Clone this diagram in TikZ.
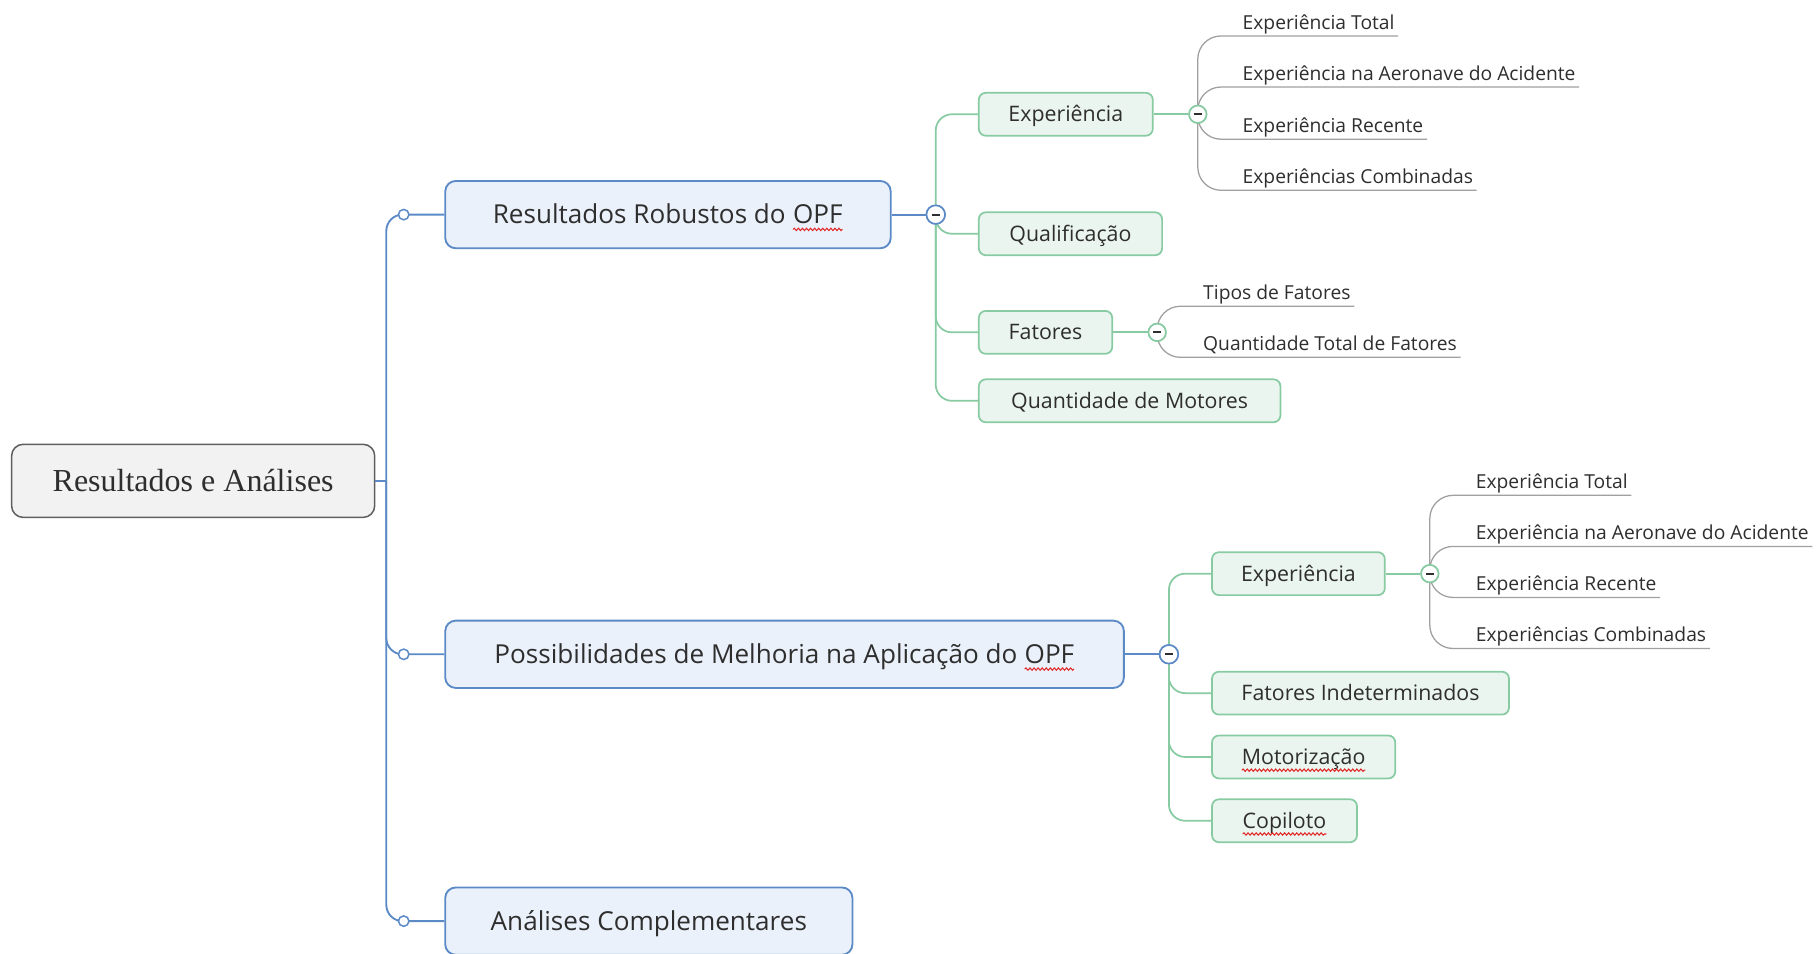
\documentclass[tikz,border=0pt]{standalone}
\usepackage{fontspec}
\setmainfont{Open Sans}
\newfontfamily\rootserif{Liberation Serif}
\usetikzlibrary{decorations.pathmorphing}

\definecolor{cBlueLine}{HTML}{5B8AC6}
\definecolor{cBlueFill}{HTML}{EBF1FA}
\definecolor{cGreenLine}{HTML}{88CBA3}
\definecolor{cGreenFill}{HTML}{EBF5EF}
\definecolor{cLeafLine}{HTML}{A0A0A0}
\definecolor{cRootLine}{HTML}{5F5F5F}
\definecolor{cRootFill}{HTML}{F2F2F2}
\definecolor{cInk}{HTML}{2E2E2E}
\definecolor{cSpell}{HTML}{E02828}

% red wavy spell-check mark under a word
\tikzset{plainword/.style={shape=rectangle,draw=none,fill=none,inner sep=0pt,outer sep=0pt,
  minimum width=0pt,minimum height=0pt,anchor=base,rounded corners=0pt,path picture={},
  text height=,text depth=}}
\newcommand\misspelt[1]{\tikz[baseline=(w.base)]{\node[plainword](w){#1};\draw[draw=cSpell,fill=none,line width=0.9pt,sharp corners,decorate,decoration={snake,amplitude=1pt,segment length=3.5pt}] ([yshift=-5pt]w.base west) -- ([yshift=-5pt]w.base east);}}

\begin{document}
\begin{tikzpicture}[x=1pt,y=-1pt,
  rootbox/.style={draw=cRootLine,fill=cRootFill,line width=1.3pt,rounded corners=10pt,
    minimum width=313pt,minimum height=63pt,text=cInk,
    font=\rootserif\fontsize{27.6}{32}\selectfont},
  topicbox/.style={draw=cBlueLine,fill=cBlueFill,line width=1.6pt,rounded corners=9pt,
    minimum height=58pt,anchor=west,text=cInk,text height=15.5pt,text depth=0pt,
    font=\fontsize{22.5}{27}\selectfont},
  subbox/.style={draw=cGreenLine,fill=cGreenFill,line width=1.5pt,rounded corners=6pt,
    minimum height=37pt,anchor=west,text=cInk,text height=12.8pt,text depth=0pt,
    font=\fontsize{18.4}{22}\selectfont},
  leaf/.style={inner sep=0pt,anchor=base west,text=cInk,font=\fontsize{16.6}{20}\selectfont},
  bluelink/.style={draw=cBlueLine,line width=1.6pt},
  greenlink/.style={draw=cGreenLine,line width=1.5pt},
  leaflink/.style={draw=cLeafLine,line width=1.1pt},
  junction/.style={circle,draw=cBlueLine,fill=white,line width=1.3pt,inner sep=0pt,minimum size=9pt},
  collapser/.style={circle,fill=white,line width=1.4pt,inner sep=0pt,minimum size=#1,
    path picture={\draw[cInk,line width=1.8pt]
      ([xshift=-3.5pt]path picture bounding box.center) -- ([xshift=3.5pt]path picture bounding box.center);}},
  bluecollapse/.style={collapser=16pt,draw=cBlueLine},
  greencollapse/.style={collapser=15pt,draw=cGreenLine},
]
\useasboundingbox (0,0) rectangle (1568,822);

% central topic and main branches
\node[rootbox] (root) at (166.5,414.5) {Resultados e Análises};
\node[topicbox,minimum width=384pt] (t1) at (383,185) {Resultados Robustos do \misspelt{OPF}};
\node[topicbox,minimum width=585pt] (t2) at (383,564) {Possibilidades de Melhoria na Aplicação do \misspelt{OPF}};
\node[topicbox,minimum width=351pt] (t3) at (383,794) {Análises Complementares};

\coordinate (trunk) at (333,414.5);
\draw[bluelink] (root.east) -- (trunk);
\foreach \t in {t1,t2,t3}{
  \draw[bluelink,rounded corners=14pt] (trunk) |- (\t.west);
  \node[junction] at ([xshift=-35pt]\t.west) {};
}

% first branch
\node[bluecollapse] (c1) at ([xshift=38pt]t1.east) {};
\node[subbox,minimum width=150pt] (a1) at (843,98.5) {Experiência};
\node[subbox,minimum width=158pt] (a2) at (843,201.5) {Qualificação};
\node[subbox,minimum width=115pt] (a3) at (843,286.5) {Fatores};
\node[subbox,minimum width=260pt] (a4) at (843,345.5) {Quantidade de Motores};
\foreach \s in {a1,a2,a3,a4}{
  \draw[greenlink,rounded corners=14pt] (c1) |- (\s.west);
}
\draw[bluelink] (t1.east) -- (c1);
\node[bluecollapse] at (c1) {};

% leaves of Experiência (first branch)
\node[greencollapse] (x1) at ([xshift=38pt]a1.east) {};
\node[leaf] (x1a) at (1071,25) {Experiência Total};
\node[leaf] (x1b) at (1071,69) {Experiência na Aeronave do Acidente};
\node[leaf] (x1c) at (1071,114) {Experiência Recente};
\node[leaf] (x1d) at (1071,158) {Experiências Combinadas};
\foreach \l in {x1a,x1b,x1c,x1d}{
  \draw[leaflink,rounded corners=20pt] (x1) |- ([shift={(3,6)}]\l.base east);
}
\draw[greenlink] (a1.east) -- (x1);
\node[greencollapse] at (x1) {};

% leaves of Fatores
\node[greencollapse] (f1) at ([xshift=38pt]a3.east) {};
\node[leaf] (f1a) at (1037,258) {Tipos de Fatores};
\node[leaf] (f1b) at (1037,302) {Quantidade Total de Fatores};
\foreach \l in {f1a,f1b}{
  \draw[leaflink,rounded corners=20pt] (f1) |- ([shift={(3,6)}]\l.base east);
}
\draw[greenlink] (a3.east) -- (f1);
\node[greencollapse] at (f1) {};

% second branch
\node[bluecollapse] (c2) at ([xshift=38pt]t2.east) {};
\node[subbox,minimum width=149pt] (b1) at (1044,494.5) {Experiência};
\node[subbox,minimum width=256pt] (b2) at (1044,597.5) {Fatores Indeterminados};
\node[subbox,minimum width=158pt] (b3) at (1044,652.5) {\misspelt{Motorização}};
\node[subbox,minimum width=125pt] (b4) at (1044,707.5) {\misspelt{Copiloto}};
\foreach \s in {b1,b2,b3,b4}{
  \draw[greenlink,rounded corners=14pt] (c2) |- (\s.west);
}
\draw[bluelink] (t2.east) -- (c2);
\node[bluecollapse] at (c2) {};

% leaves of Experiência (second branch)
\node[greencollapse] (x2) at ([xshift=38pt]b1.east) {};
\node[leaf] (x2a) at (1272,421) {Experiência Total};
\node[leaf] (x2b) at (1272,465) {Experiência na Aeronave do Acidente};
\node[leaf] (x2c) at (1272,509) {Experiência Recente};
\node[leaf] (x2d) at (1272,553) {Experiências Combinadas};
\foreach \l in {x2a,x2b,x2c,x2d}{
  \draw[leaflink,rounded corners=20pt] (x2) |- ([shift={(3,6)}]\l.base east);
}
\draw[greenlink] (b1.east) -- (x2);
\node[greencollapse] at (x2) {};
\end{tikzpicture}
\end{document}
